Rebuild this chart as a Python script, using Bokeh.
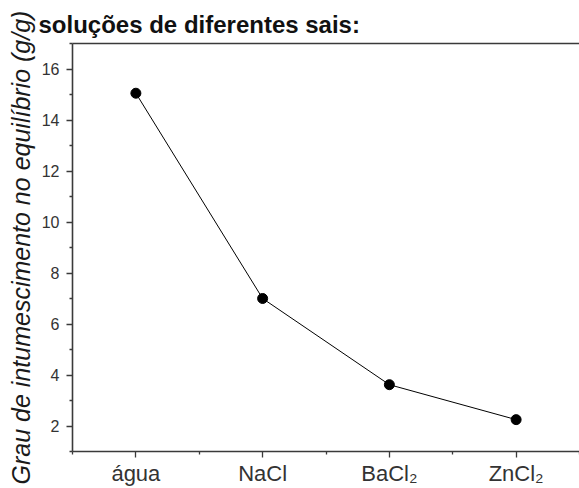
from bokeh.plotting import figure
from bokeh.models import FixedTicker, LinearAxis, ColumnDataSource
from bokeh.embed import file_html
from bokeh.resources import INLINE

categories = ["água", "NaCl", "BaCl₂", "ZnCl₂"]
swelling = [15.05, 7.0, 3.62, 2.25]
y_major = [2, 4, 6, 8, 10, 12, 14, 16]
y_minor = [1, 3, 5, 7, 9, 11, 13, 15, 17]
title_text = "soluções de diferentes sais:"
y_label = "Grau de intumescimento no equilíbrio (g/g)"

positions = list(range(1, len(categories) + 1))
x_minor = [p_ - 0.5 for p_ in positions] + [positions[-1] + 0.5]

src = ColumnDataSource(dict(x=positions, y=swelling, name=categories))

FONT = "Liberation Sans"
AX = "#3a3a3a"

p = figure(width=579, height=488, x_range=(0.5, 4.5), y_range=(1, 17),
           output_backend="svg", toolbar_location=None,
           min_border_left=72, min_border_right=0, min_border_top=43,
           min_border_bottom=36, x_axis_location=None, y_axis_location=None,
           title=title_text)
p.outline_line_color = None
p.grid.visible = False
p.background_fill_color = "white"
p.border_fill_color = "white"

p.title.text_font = FONT
p.title.text_font_size = "24px"
p.title.text_font_style = "bold"
p.title.text_color = "#111111"
p.title.align = "left"
p.title.offset = -34
p.title.standoff = 12

xax = LinearAxis(ticker=FixedTicker(ticks=positions, minor_ticks=x_minor),
                 major_label_overrides={pp: c for pp, c in zip(positions, categories)})
xax.axis_line_color = AX
xax.axis_line_width = 1.6
xax.major_tick_line_color = AX
xax.minor_tick_line_color = AX
xax.major_tick_line_width = 1.3
xax.minor_tick_line_width = 1.3
xax.major_tick_in = 0
xax.major_tick_out = 6
xax.minor_tick_in = 0
xax.minor_tick_out = 3
xax.major_label_standoff = 3
xax.major_label_text_font = FONT
xax.major_label_text_font_size = "22px"
xax.major_label_text_color = "#333333"
p.add_layout(xax, "below")

yax = LinearAxis(ticker=FixedTicker(ticks=y_major, minor_ticks=y_minor),
                 axis_label=y_label)
yax.axis_line_color = AX
yax.axis_line_width = 1.6
yax.major_tick_line_color = AX
yax.minor_tick_line_color = AX
yax.major_tick_line_width = 1.3
yax.minor_tick_line_width = 1.3
yax.major_tick_in = 0
yax.major_tick_out = 6
yax.minor_tick_in = 0
yax.minor_tick_out = 3
yax.major_label_standoff = 7
yax.major_label_text_font = FONT
yax.major_label_text_font_size = "16px"
yax.major_label_text_color = "#333333"
yax.axis_label_text_font = FONT
yax.axis_label_text_font_size = "25px"
yax.axis_label_text_font_style = "italic"
yax.axis_label_text_color = "#1a1a1a"
yax.axis_label_standoff = 4
p.add_layout(yax, "left")

top = LinearAxis(ticker=FixedTicker(ticks=[]))
top.axis_line_color = AX
top.axis_line_width = 1.6
top.major_tick_line_color = None
top.minor_tick_line_color = None
top.major_tick_out = 0
top.minor_tick_out = 0
top.major_label_standoff = 0
top.major_label_text_font_size = "0px"
p.add_layout(top, "above")

p.line("x", "y", source=src, line_color="black", line_width=1)
p.scatter("x", "y", source=src, size=10, marker="circle", fill_color="black",
          line_color="black")

open("out.html", "w").write(file_html(p, INLINE))
